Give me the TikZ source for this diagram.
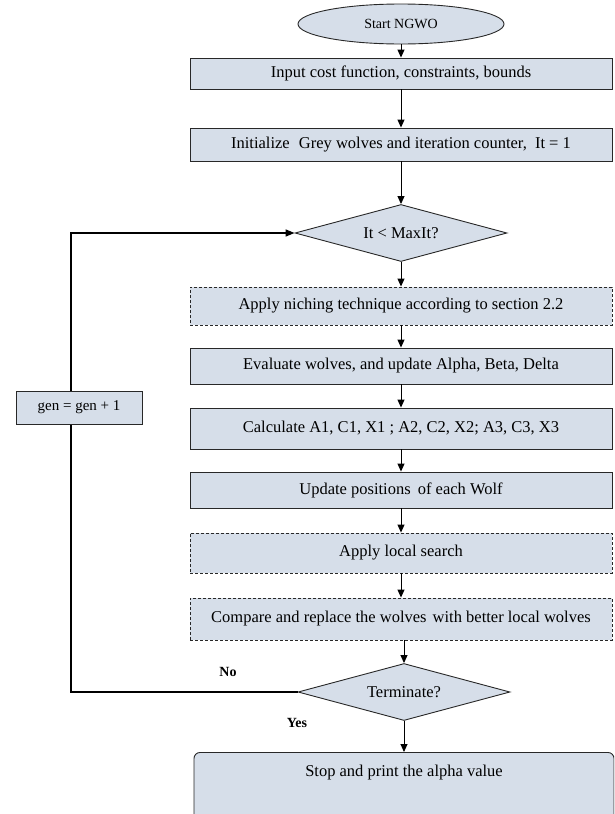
\documentclass[tikz,border=0pt]{standalone}
\usepackage{fontspec}
\setmainfont{Liberation Serif}
\usetikzlibrary{shapes.geometric,arrows.meta}
\definecolor{boxfill}{RGB}{214,222,233}
\definecolor{edge}{RGB}{40,40,40}
\begin{document}
\begin{tikzpicture}[x=1pt,y=-1pt,
  base/.style={draw=edge, fill=boxfill, line width=0.9pt, inner sep=0pt,
    font=\fontsize{16.5}{18}\selectfont},
  procbox/.style={base, rectangle, minimum width=422pt},
  dashbox/.style={procbox, dash pattern=on 3pt off 2pt},
  decision/.style={base, diamond, aspect=3.7, minimum width=212pt, minimum height=57pt},
  arr/.style={draw=black, line width=0.9pt, -{Triangle[length=8pt,width=7pt]}},
  loopline/.style={draw=black, line width=1.6pt, -{Triangle[length=9pt,width=7pt]}},
  lbl/.style={font=\bfseries\fontsize{14}{16}\selectfont, inner sep=0pt}]
\path[use as bounding box] (0,0) rectangle (614,814);
\clip (0,0) rectangle (614,814);
\node[base, ellipse, minimum width=206pt, minimum height=40pt,
  font=\fontsize{14}{16}\selectfont] (start) at (401,24) {Start NGWO};
\node[procbox, minimum height=31pt] (input) at (401,73.5) {Input cost function, constraints, bounds};
\node[procbox, minimum height=33pt] (init) at (401,144.5) {Initialize\hspace{5pt} Grey wolves and iteration counter,\hspace{4pt} It = 1};
\node[decision] (cond) at (401,233) {It < MaxIt?};
\node[dashbox, minimum height=38pt] (niche) at (401,306) {Apply niching technique according to section 2.2};
\node[procbox, minimum height=36pt] (eval) at (401,366) {Evaluate wolves, and update Alpha, Beta, Delta};
\node[procbox, minimum height=41pt] (calc) at (401,428.5) {Calculate A1, C1, X1 ; A2, C2, X2; A3, C3, X3};
\node[procbox, minimum height=36pt] (upd) at (401,490) {Update positions\hspace{3pt} of each Wolf};
\node[dashbox, minimum height=40pt] (local) at (401,553) {Apply local search};
\node[dashbox, minimum height=42pt] (comp) at (401,619) {Compare and replace the wolves\hspace{2pt} with better local wolves};
\node[decision] (term) at (404,692) {Terminate?};
\node[base, rounded corners=6pt, minimum width=420pt, anchor=north,
  text height=20pt, text depth=50pt, inner ysep=4pt] (stop) at (404,752) {Stop and print the alpha value};
\coordinate (lx) at (71,0);
\draw[arr] (start) -- (input);
\draw[arr] (input) -- (init);
\draw[arr] (init) -- (cond);
\draw[arr] (cond) -- (niche);
\draw[arr] (niche) -- (eval);
\draw[arr] (eval) -- (calc);
\draw[arr] (calc) -- (upd);
\draw[arr] (upd) -- (local);
\draw[arr] (local) -- (comp);
\draw[arr] (comp.south -| term.north) -- (term.north);
\draw[arr] (term.south) -- (term.south |- stop.north);
\draw[loopline] (term.west) -- (term.west -| lx) -- (cond.west -| lx) -- (cond.west);
\node[base, minimum width=126pt, minimum height=33pt,
  font=\fontsize{15}{17}\selectfont] (gen) at (79,407.5) {gen = gen + 1};
\node[lbl] (no) at (228,672) {No};
\node[lbl] (yes) at (297,723) {Yes};
\end{tikzpicture}
\end{document}
